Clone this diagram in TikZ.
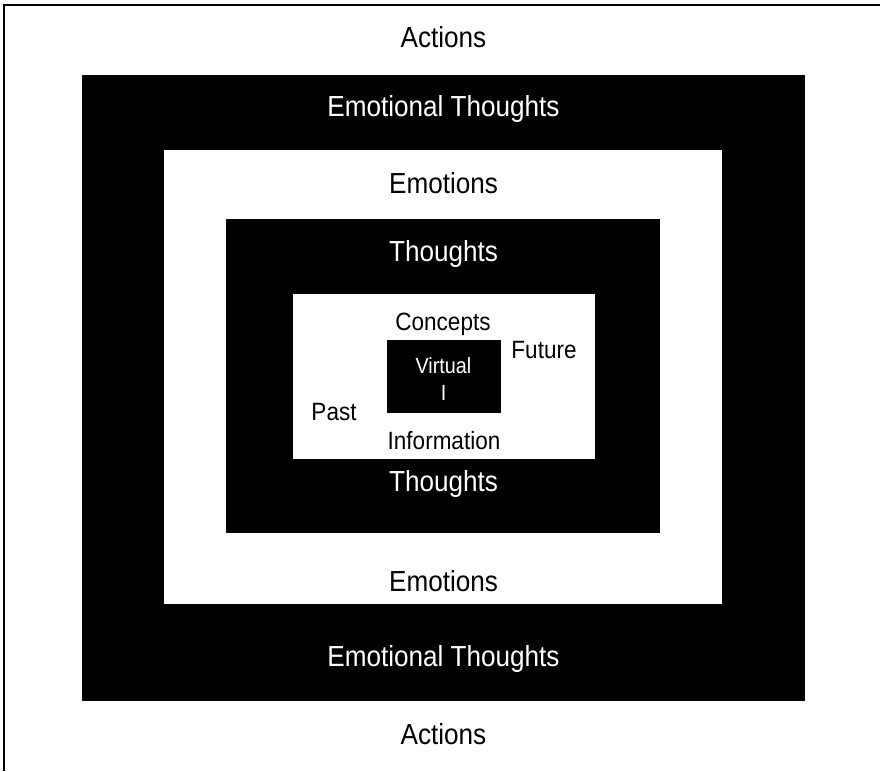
\documentclass[tikz,border=0pt]{standalone}
\usepackage{fontspec}
\setmainfont{Liberation Sans}[FakeStretch=0.9]
\tikzset{
  ringlabel/.style={anchor=base, font=\fontsize{29}{31}\selectfont},
  corelabel/.style={anchor=base, font=\fontsize{25}{27}\selectfont},
  onblack/.style={text=white},
}

\begin{document}
\begin{tikzpicture}[x=1pt, y=-1pt]
\useasboundingbox (0,0) rectangle (880,771);
%frame (only top and left edge show)
\draw[line width=2pt] (3.5,771) -- (3.5,5) -- (880,5);
%nested boxes, outside in
\fill (82,75) rectangle (805,701);
\fill[white] (164,150) rectangle (722,604);
\fill (226,219) rectangle (660,533);
\fill[white] (293,294) rectangle (595,459);
\fill (387,340) rectangle (501,413);
%ring labels
\node[ringlabel] (actTop) at (443.5,47) {Actions};
\node[ringlabel, onblack] (emoThTop) at (443.5,116) {Emotional Thoughts};
\node[ringlabel] (emoTop) at (443.5,193) {Emotions};
\node[ringlabel, onblack] (thTop) at (443.5,261) {Thoughts};
\node[ringlabel, onblack] (thBot) at (443.5,491) {Thoughts};
\node[ringlabel] (emoBot) at (443.5,591) {Emotions};
\node[ringlabel, onblack] (emoThBot) at (443.5,666) {Emotional Thoughts};
\node[ringlabel] (actBot) at (443.5,744) {Actions};
%core
\node[corelabel] (concepts) at (443,330) {Concepts};
\node[corelabel] (future) at (544,358) {Future};
\node[corelabel] (past) at (334,420) {Past};
\node[corelabel] (info) at (444,449) {Information};
\node[corelabel, onblack, font=\fontsize{22}{24}\selectfont] (virtual) at (443.5,373) {Virtual};
\node[corelabel, onblack, font=\fontsize{22}{24}\selectfont] (self) at (443.5,400) {I};
\end{tikzpicture}
\end{document}
